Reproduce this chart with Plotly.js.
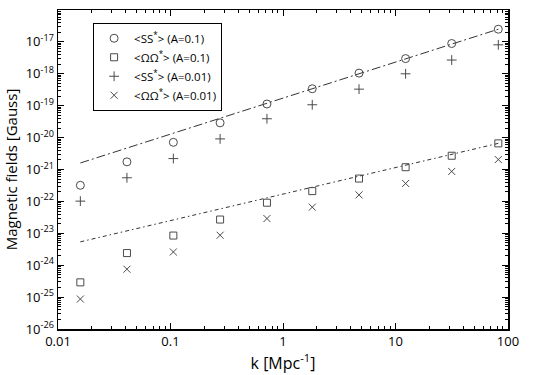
<!DOCTYPE html>
<html>
<head>
<meta charset="utf-8">
<script src="https://cdn.plot.ly/plotly-3.0.1.min.js"></script>
<style>
  html, body { margin: 0; padding: 0; background: #fff; }
  #root { width: 539px; height: 375px; }
</style>
</head>
<body>
<div id="root"></div>
<script>
// wavenumbers k [Mpc^-1]
const k = [0.0158, 0.041, 0.106, 0.276, 0.72, 1.82, 4.74, 12.3, 31.6, 82];

// field strengths [Gauss]
const ssA01 = [3.2e-22, 1.74e-21, 7.1e-21, 2.9e-20, 1.13e-19, 3.4e-19, 1.05e-18, 3.0e-18, 8.9e-18, 2.5e-17];
const ooA01 = [2.9e-25, 2.4e-24, 8.5e-24, 2.7e-23, 9.1e-23, 2.1e-22, 5.2e-22, 1.18e-21, 2.7e-21, 6.6e-21];
const ssA001 = [1.02e-22, 5.5e-22, 2.2e-21, 9.1e-21, 3.9e-20, 1.07e-19, 3.3e-19, 1.0e-18, 2.7e-18, 8.1e-18];
const ooA001 = [8.7e-26, 7.5e-25, 2.6e-24, 8.7e-24, 2.9e-23, 6.6e-23, 1.6e-22, 3.65e-22, 8.7e-22, 2.05e-21];

// the two power-law guide lines (end points)
const fitK = [0.0158, 82];
const fitSS = [1.6e-21, 2.5e-17];
const fitOO = [5.4e-24, 6.6e-21];

// tick labels
const xTickVals = [0.01, 0.1, 1, 10, 100];
const xTickText = ['0.01', '0.1', '1', '10', '100'];
const yTickVals = [1e-26, 1e-25, 1e-24, 1e-23, 1e-22, 1e-21, 1e-20, 1e-19, 1e-18, 1e-17, 1e-16];
const yTickText = yTickVals.map(function(v) {
    return '10<sup>' + Math.round(Math.log10(v)) + '</sup>';
});

const FONT = 'Open Sans, DejaVu Sans, sans-serif';
const MARK = '#4a4a4a';

function markerTrace(y, name, symbol, size) {
    return {
        x: k,
        y: y,
        name: name,
        mode: 'markers',
        type: 'scatter',
        marker: {
            symbol: symbol,
            size: size,
            color: MARK,
            line: { color: MARK, width: 1 }
        }
    };
}

function lineTrace(y, dash) {
    return {
        x: fitK,
        y: y,
        mode: 'lines',
        type: 'scatter',
        showlegend: false,
        hoverinfo: 'skip',
        line: { color: '#333', width: 1, dash: dash }
    };
}

var data = [
    lineTrace(fitSS, '9px,3px,2px,3px'),
    lineTrace(fitOO, '4px,3px,1.5px,3px'),
    markerTrace(ssA01, '&lt;SS<sup>*</sup>&gt; (A=0.1)', 'circle-open', 8),
    markerTrace(ooA01, '&lt;\u03A9\u03A9<sup>*</sup>&gt; (A=0.1)', 'square-open', 7),
    markerTrace(ssA001, '&lt;SS<sup>*</sup>&gt; (A=0.01)', 'cross-thin-open', 7),
    markerTrace(ooA001, '&lt;\u03A9\u03A9<sup>*</sup>&gt; (A=0.01)', 'x-thin-open', 7)
];

var axisCommon = {
    type: 'log',
    showline: true,
    linecolor: '#000',
    linewidth: 1.5,
    mirror: 'ticks',
    ticks: 'inside',
    ticklen: 6,
    tickcolor: '#000',
    tickmode: 'array',
    showgrid: false,
    zeroline: false,
    tickfont: { family: FONT, size: 13, color: '#000' },
    minor: { ticks: 'inside', tickmode: 'linear', ticklen: 3, tickcolor: '#000', dtick: 'D1', showgrid: false }
};

var layout = {
    width: 539,
    height: 375,
    margin: { l: 58, r: 31, t: 10, b: 46 },
    paper_bgcolor: '#fff',
    plot_bgcolor: '#fff',
    font: { family: FONT, color: '#000' },
    showlegend: true,
    legend: {
        x: 0.078,
        y: 0.96,
        xanchor: 'left',
        yanchor: 'top',
        bgcolor: '#fff',
        bordercolor: '#000',
        borderwidth: 1,
        font: { family: FONT, size: 11.5, color: '#000' },
        itemwidth: 30,
        tracegroupgap: 0
    },
    xaxis: Object.assign({}, axisCommon, {
        range: [-2, 2],
        tickvals: xTickVals,
        ticktext: xTickText,
        title: { text: 'k [Mpc<sup>-1</sup>]', font: { family: FONT, size: 16 }, standoff: 2 }
    }),
    yaxis: Object.assign({}, axisCommon, {
        range: [-26, -16],
        tickvals: yTickVals,
        ticktext: yTickText,
        title: { text: 'Magnetic fields [Gauss]', font: { family: FONT, size: 15 }, standoff: 4 }
    })
};

Plotly.newPlot('root', data, layout, { displayModeBar: false, staticPlot: true });
</script>
</body>
</html>
